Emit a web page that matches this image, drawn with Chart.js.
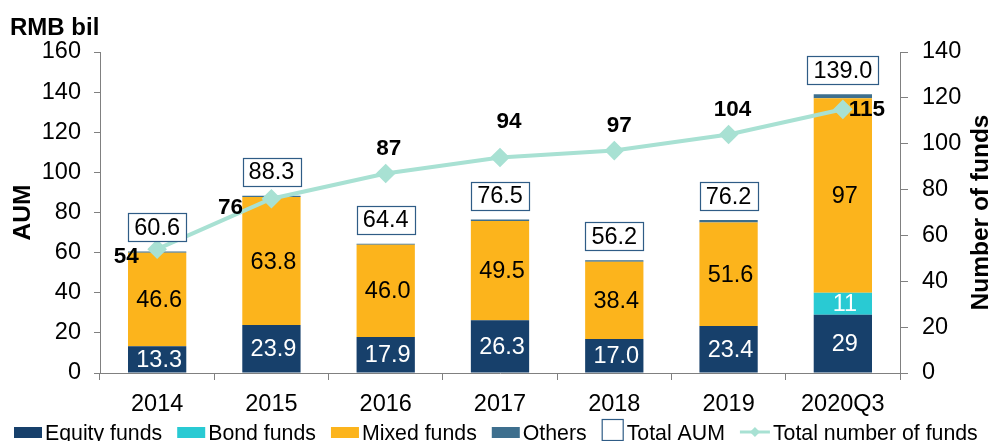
<!DOCTYPE html>
<html><head><meta charset="utf-8">
<script src="https://cdn.jsdelivr.net/npm/chart.js@4.4.0/dist/chart.umd.min.js"></script>
<style>html,body{margin:0;padding:0;background:#fff}#wrap{width:993px;height:441px;position:relative}</style>
</head><body><div id="wrap"><canvas id="c" width="993" height="441"></canvas></div>
<script>
const categories = ['2014', '2015', '2016', '2017', '2018', '2019', '2020Q3'];
const equityFunds = [13.3, 23.9, 17.9, 26.3, 17.0, 23.4, 29];
const bondFunds = [0, 0, 0, 0, 0, 0, 11];
const mixedFunds = [46.6, 63.8, 46.0, 49.5, 38.4, 51.6, 97];
const otherFunds = [0.7, 0.6, 0.5, 0.7, 0.8, 1.2, 2.0];
const totalAUM = [60.6, 88.3, 64.4, 76.5, 56.2, 76.2, 139.0];
const fundCount = [54, 76, 87, 94, 97, 104, 115];
const leftAxisMax = 160;
const rightAxisMax = 140;
const tickStep = 20;

// label placement offsets for the fund-count labels (px)
const countLabelDx = [-31, -41, 3, 9, 5, 4, 24];
const countLabelDy = [8, 9, -25, -36, -25, -25, 0];

const FONT = "'Liberation Sans', Arial, sans-serif";
const C_EQ = '#17406b', C_BOND = '#29cad3', C_MIX = '#fcb41c', C_OTH = '#3e6f8e', C_LINE = '#a8e1d3', C_BOX = '#2f5c86';
const AXIS = '#808080';
const TICK_SIZE = 23.5;

function fmt(v, i) { return i === categories.length - 1 ? String(Math.round(v)) : v.toFixed(1); }

const labelPlugin = {
  id: 'labels',
  afterDatasetsDraw(chart) {
    const ctx = chart.ctx;
    ctx.save();
    ctx.textAlign = 'center';
    ctx.textBaseline = 'middle';
    ctx.font = '23.5px ' + FONT;
    const segs = [[0, '#ffffff', equityFunds], [1, '#ffffff', bondFunds], [2, '#000000', mixedFunds]];
    segs.forEach(([di, col, arr]) => {
      const meta = chart.getDatasetMeta(di);
      meta.data.forEach((el, i) => {
        if (!arr[i]) return;
        const cy = (el.y + el.base) / 2;
        ctx.fillStyle = col;
        ctx.fillText(fmt(arr[i], i), el.x + 2, cy + 1);
      });
    });
    // totals with boxes
    const xs = chart.scales.x, ys = chart.scales.y;
    totalAUM.forEach((v, i) => {
      const x = xs.getPixelForValue(i);
      const top = ys.getPixelForValue(v);
      const txt = v.toFixed(1);
      const w = ctx.measureText(txt).width + 12;
      const h = 28;
      const bY = top - 10;
      ctx.fillStyle = '#fff';
      ctx.fillRect(x - w / 2, bY - h, w, h);
      ctx.strokeStyle = C_BOX;
      ctx.lineWidth = 1.2;
      ctx.strokeRect(Math.round(x - w / 2) + 0.5, Math.round(bY - h) + 0.5, Math.round(w), h);
      ctx.fillStyle = '#000';
      ctx.fillText(txt, x, bY - h / 2 + 1);
    });
    // fund count labels
    ctx.font = 'bold 22.5px ' + FONT;
    const lm = chart.getDatasetMeta(4);
    lm.data.forEach((p, i) => {
      ctx.fillStyle = '#000';
      ctx.fillText(String(fundCount[i]), p.x + countLabelDx[i], p.y + countLabelDy[i]);
    });
    ctx.restore();
  },
  afterDraw(chart) {
    const ctx = chart.ctx;
    ctx.save();
    ctx.fillStyle = '#000';
    ctx.font = 'bold 24px ' + FONT;
    ctx.textAlign = 'left';
    ctx.textBaseline = 'alphabetic';
    ctx.fillText('RMB bil', 10, 35);
    const ca = chart.chartArea;
    const midY = (ca.top + ca.bottom) / 2;
    ctx.textAlign = 'center';
    ctx.textBaseline = 'middle';
    ctx.font = 'bold 24.5px ' + FONT;
    ctx.save(); ctx.translate(23, midY); ctx.rotate(-Math.PI / 2); ctx.fillText('AUM', 0, 0); ctx.restore();
    ctx.save(); ctx.translate(981, midY); ctx.rotate(-Math.PI / 2); ctx.fillText('Number of funds', 0, 0); ctx.restore();
    // legend
    ctx.font = '21.3px ' + FONT;
    ctx.textAlign = 'left';
    ctx.textBaseline = 'alphabetic';
    const items = [
      ['Equity funds', 'box', C_EQ], ['Bond funds', 'box', C_BOND], ['Mixed funds', 'box', C_MIX],
      ['Others', 'box', C_OTH], ['Total AUM', 'outline', C_BOX], ['Total number of funds', 'line', C_LINE]
    ];
    let x = 14;
    const base = 440;
    items.forEach(([t, kind, col]) => {
      if (kind === 'box') {
        ctx.fillStyle = col; ctx.fillRect(x, 427, 28, 11); x += 28;
      } else if (kind === 'outline') {
        ctx.strokeStyle = col; ctx.lineWidth = 1.2; ctx.strokeRect(x + 0.5, 419.5, 21, 21); x += 22;
      } else {
        ctx.strokeStyle = col; ctx.lineWidth = 3; ctx.beginPath(); ctx.moveTo(x, 432); ctx.lineTo(x + 30, 432); ctx.stroke();
        ctx.fillStyle = col; ctx.beginPath(); ctx.moveTo(x + 15, 427); ctx.lineTo(x + 20, 432); ctx.lineTo(x + 15, 437); ctx.lineTo(x + 10, 432); ctx.closePath(); ctx.fill();
        x += 30;
      }
      x += 3;
      ctx.fillStyle = '#000';
      ctx.fillText(t, x, base);
      x += ctx.measureText(t).width + 15;
    });
    ctx.restore();
  }
};

const barCommon = { type: 'bar', yAxisID: 'y', barPercentage: 0.51, categoryPercentage: 1.0, order: 2, borderWidth: 0 };

new Chart(document.getElementById('c'), {
  data: {
    labels: categories,
    datasets: [
      Object.assign({ label: 'Equity funds', data: equityFunds, backgroundColor: C_EQ }, barCommon),
      Object.assign({ label: 'Bond funds', data: bondFunds, backgroundColor: C_BOND }, barCommon),
      Object.assign({ label: 'Mixed funds', data: mixedFunds, backgroundColor: C_MIX }, barCommon),
      Object.assign({ label: 'Others', data: otherFunds, backgroundColor: C_OTH }, barCommon),
      { type: 'line', label: 'Total number of funds', data: fundCount, yAxisID: 'y1', order: 1,
        borderColor: C_LINE, backgroundColor: C_LINE, borderWidth: 4, pointStyle: 'rectRot',
        pointRadius: 7, pointHoverRadius: 7, tension: 0, fill: false }
    ]
  },
  options: {
    responsive: false,
    animation: false,
    devicePixelRatio: 1,
    layout: { padding: { top: 52, bottom: 23, left: 0, right: 0 } },
    plugins: { legend: { display: false }, tooltip: { enabled: false } },
    scales: {
      x: {
        stacked: true,
        grid: { offset: true, drawOnChartArea: false, drawTicks: true, tickLength: 7, color: AXIS },
        border: { color: AXIS, width: 1 },
        ticks: { font: { family: FONT, size: TICK_SIZE }, color: '#000', padding: 10, maxRotation: 0 },
        afterFit(s) { s.height = 45; }
      },
      y: {
        stacked: true, position: 'left', min: 0, max: leftAxisMax,
        grid: { drawOnChartArea: false, drawTicks: true, tickLength: 6, color: AXIS },
        border: { color: AXIS, width: 1 },
        ticks: { stepSize: tickStep, font: { family: FONT, size: TICK_SIZE }, color: '#000', padding: 13 },
        afterFit(s) { s.width = 100; }
      },
      y1: {
        position: 'right', min: 0, max: rightAxisMax,
        grid: { drawOnChartArea: false, drawTicks: true, tickLength: 8, color: AXIS },
        border: { color: AXIS, width: 1 },
        ticks: { stepSize: tickStep, font: { family: FONT, size: TICK_SIZE }, color: '#000', padding: 14 },
        afterFit(s) { s.width = 93; }
      }
    }
  },
  plugins: [labelPlugin]
});
</script>
</body></html>
